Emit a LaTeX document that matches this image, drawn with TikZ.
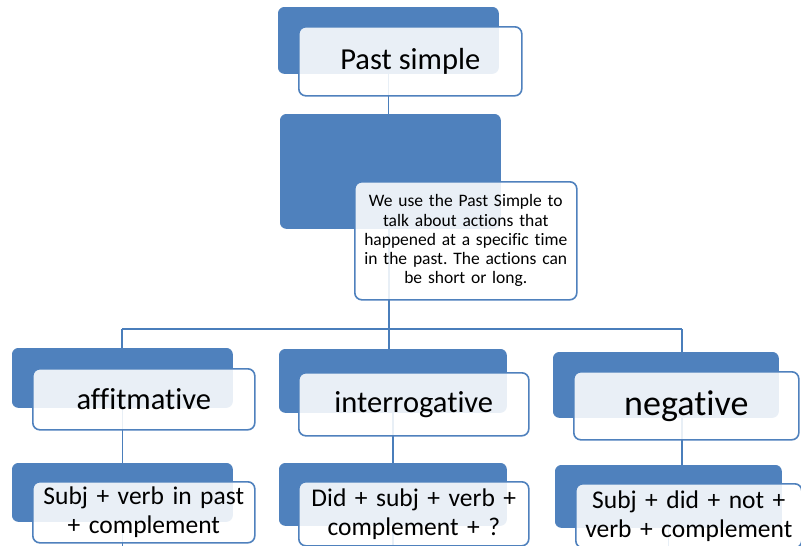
\documentclass[tikz,border=0pt]{standalone}
\usepackage{fontspec}
\setmainfont{Carlito}[Ligatures={NoCommon}]
\frenchspacing
\definecolor{sblue}{RGB}{79,129,189}
\definecolor{cblue}{RGB}{74,126,187}
\tikzset{
  bluebox/.style={fill=sblue, draw=sblue, line width=0.8pt, rounded corners=6pt, inner sep=0pt, anchor=north west},
  whitebox/.style={fill=white, fill opacity=0.88, text opacity=1, draw=sblue, line width=1.6pt,
     rounded corners=7pt, inner sep=0pt, anchor=north west, align=center, text=black},
  conn/.style={draw=cblue, line width=1.7pt},
  bigtxt/.style={font=\fontsize{30.5}{33}\selectfont},
  negtxt/.style={font=\fontsize{36}{40}\selectfont},
  midtxt/.style={font=\fontsize{25.5}{29}\selectfont},
  smalltxt/.style={font=\fontsize{17.5}{19.3}\selectfont}
}
\begin{document}
\begin{tikzpicture}[x=1pt,y=-1pt]
\useasboundingbox (0,0) rectangle (801,546);
\clip (0,0) rectangle (801,546);
\fill[white] (0,0) rectangle (801,546);
% blue rectangles
\node[bluebox, minimum width=220pt, minimum height=66pt] (b1) at (278,7) {};
\node[bluebox, minimum width=220pt, minimum height=114pt] (b2) at (280,114) {};
\node[bluebox, minimum width=220pt, minimum height=59pt] (b3a) at (12,348) {};
\node[bluebox, minimum width=227pt, minimum height=63pt] (b3b) at (279,349) {};
\node[bluebox, minimum width=225pt, minimum height=65pt] (b3c) at (553,352) {};
\node[bluebox, minimum width=220pt, minimum height=58pt] (b4a) at (12,463) {};
\node[bluebox, minimum width=227pt, minimum height=62pt] (b4b) at (279,463) {};
\node[bluebox, minimum width=226pt, minimum height=62pt] (b4c) at (555,465) {};
% connectors
\coordinate (hub) at (389,329);
\coordinate (hl) at (122,329);
\coordinate (hr) at (682,329);
\coordinate (bot) at (0,560);
\draw[conn] (b1.south) -- (b1.south |- b2.north);
\draw[conn] (b2.south -| hub) -- (hub);
\draw[conn] (hl) -- (hr);
\draw[conn] (hl) -- (hl |- b3a.north);
\draw[conn] (hub) -- (hub |- b3b.north);
\draw[conn] (hr) -- (hr |- b3c.north);
\draw[conn] (b3a.south) -- (b4a.north);
\draw[conn] (b3b.south) -- (b4b.north);
\draw[conn] (b3c.south -| hr) -- (b4c.north -| hr);
\draw[conn] (b4a.south) -- (b4a.south |- bot);
\draw[conn] (b4b.south) -- (b4b.south |- bot);
\draw[conn] (b4c.south) -- (b4c.south |- bot);
% white boxes
\node[whitebox, bigtxt, minimum width=223pt, minimum height=69pt] (w1) at (298,26) {Past simple};
\node[whitebox, smalltxt, minimum width=222pt, minimum height=118pt, text width=222pt] (w2) at (354,181)
  {We use the Past Simple to\\talk about actions that\\happened at a specific time\\in the past. The actions can\\be short or long.};
\node[whitebox, bigtxt, minimum width=222pt, minimum height=61pt] (w3a) at (32,368) {affitmative};
\node[whitebox, bigtxt, minimum width=230pt, minimum height=63pt] (w3b) at (298,372) {interrogative};
\node[whitebox, negtxt, minimum width=225pt, minimum height=68pt] (w3c) at (573,371) {negative};
\node[whitebox, midtxt, minimum width=222pt, minimum height=61pt, text width=222pt] (w4a) at (32,481) {Subj + verb in past\\+ complement};
\node[whitebox, midtxt, minimum width=230pt, minimum height=64pt, text width=230pt] (w4b) at (298,481) {Did + subj + verb +\\complement + ?};
\node[whitebox, midtxt, minimum width=226pt, minimum height=64pt, text width=226pt] (w4c) at (575,483) {Subj + did + not +\\verb + complement};
\end{tikzpicture}
\end{document}
